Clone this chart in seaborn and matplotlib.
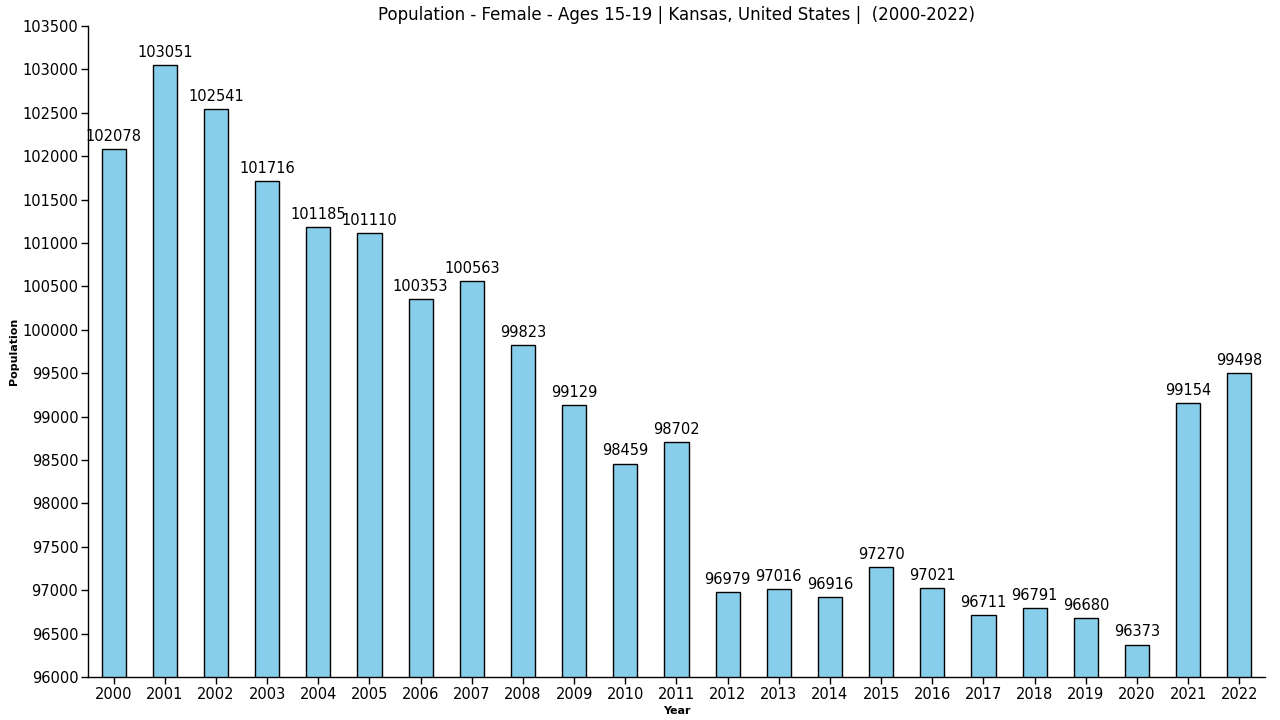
import matplotlib
matplotlib.use("Agg")
import pandas as pd
import seaborn as sns
import matplotlib.pyplot as plt

years = [str(y) for y in range(2000, 2023)]
population = [102078, 103051, 102541, 101716, 101185, 101110, 100353, 100563, 99823,
              99129, 98459, 98702, 96979, 97016, 96916, 97270, 97021, 96711, 96791,
              96680, 96373, 99154, 99498]

df = pd.DataFrame({"Year": years, "Population": population})

sns.set_theme(style="white")
plt.rcParams["font.family"] = ["DejaVu Sans"]
plt.rcParams["text.color"] = "black"
plt.rcParams["axes.labelcolor"] = "black"

fig = plt.figure(figsize=(12.8, 7.2), dpi=100)
ax = fig.add_axes([0.0688, 0.0597, 0.9194, 0.9043])
sns.barplot(data=df, x="Year", y="Population", color="#87CEEB", edgecolor="black",
            linewidth=1, width=0.47, saturation=1, ax=ax)

for i, v in enumerate(population):
    ax.text(i, v + 60, str(v), ha="center", va="bottom", fontsize=10.5, color="black")

ax.set_ylim(96000, 103500)
ax.set_xlim(-0.5, 22.5)
ax.set_yticks(range(96000, 103501, 500))
ax.tick_params(axis="both", labelsize=10.5, length=5, width=1, colors="black", direction="out",
               left=True, bottom=True, pad=2)
ax.set_xlabel("Year", fontsize=8, fontweight="bold", labelpad=3)
ax.set_ylabel("Population", fontsize=8, fontweight="bold", labelpad=2)
for side in ["top", "right"]:
    ax.spines[side].set_visible(False)
for side in ["left", "bottom"]:
    ax.spines[side].set_color("black")
    ax.spines[side].set_linewidth(1)
ax.set_title("Population - Female - Ages 15-19 | Kansas, United States |  (2000-2022)",
             fontsize=12, pad=4, color="black")

fig.savefig("out.png", dpi=100)
